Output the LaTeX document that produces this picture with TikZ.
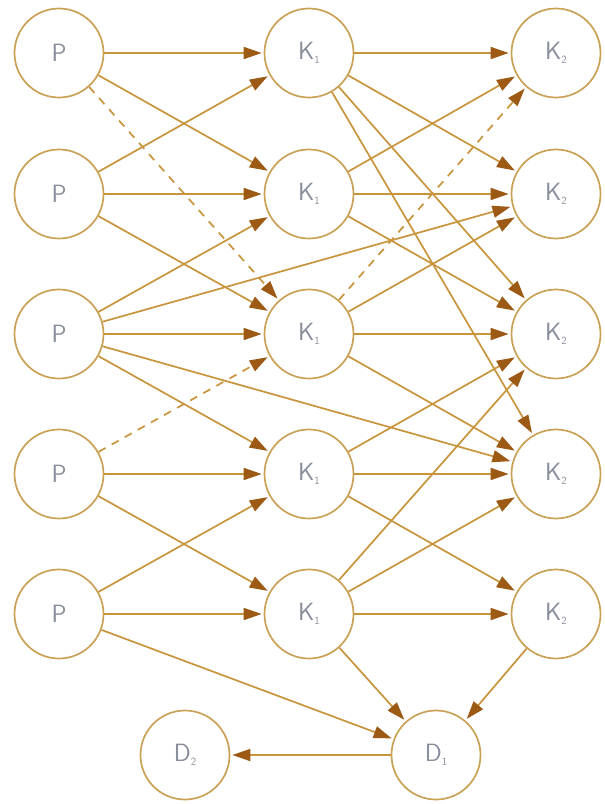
\documentclass[tikz,border=0pt]{standalone}
\usetikzlibrary{arrows.meta}
\definecolor{ring}{HTML}{C9A257}
\definecolor{edgec}{HTML}{C8943C}
\definecolor{tipc}{HTML}{9C5A14}
\definecolor{lbl}{HTML}{8A8F9C}
\newcommand{\sbx}[1]{\raisebox{-4pt}{\fontsize{11}{12}\selectfont #1}}
\begin{document}
\begin{tikzpicture}[x=1pt,y=-1pt,
  st/.style={circle,draw=ring,line width=1.7pt,fill=white,minimum size=89pt,inner sep=0pt,text=lbl,font=\sffamily\fontsize{25}{27}\selectfont},
  ar/.style={draw=edgec,line width=1.7pt,-{Triangle[length=18pt,width=12pt,color=tipc]},shorten >=2pt},
  da/.style={ar,dash pattern=on 8pt off 7pt}]
\useasboundingbox[fill=white] (0,0) rectangle (605,804);
% left column
\node[st] (P1) at (59,53) {P};
\node[st] (P2) at (59,194) {P};
\node[st] (P3) at (59,334) {P};
\node[st] (P4) at (59,474) {P};
\node[st] (P5) at (59,614) {P};
% middle column
\node[st] (K1) at (309,53) {K\sbx{1}};
\node[st] (K2) at (309,194) {K\sbx{1}};
\node[st] (K3) at (309,334) {K\sbx{1}};
\node[st] (K4) at (309,474) {K\sbx{1}};
\node[st] (K5) at (309,614) {K\sbx{1}};
% right column
\node[st] (R1) at (556,53) {K\sbx{2}};
\node[st] (R2) at (556,194) {K\sbx{2}};
\node[st] (R3) at (556,334) {K\sbx{2}};
\node[st] (R4) at (556,474) {K\sbx{2}};
\node[st] (R5) at (556,614) {K\sbx{2}};
% bottom
\node[st] (D2) at (185,755) {D\sbx{2}};
\node[st] (D1) at (436,755) {D\sbx{1}};
% edges from P
\draw[ar] (P1) -- (K1);
\draw[ar] (P1) -- (K2);
\draw[da] (P1) -- (K3);
\draw[ar] (P2) -- (K1);
\draw[ar] (P2) -- (K2);
\draw[ar] (P2) -- (K3);
\draw[ar] (P3) -- (K2);
\draw[ar] (P3) -- (R2);
\draw[ar] (P3) -- (K3);
\draw[ar] (P3) -- (K4);
\draw[ar] (P3) -- (R4);
\draw[da] (P4) -- (K3);
\draw[ar] (P4) -- (K4);
\draw[ar] (P4) -- (K5);
\draw[ar] (P5) -- (K4);
\draw[ar] (P5) -- (K5);
\draw[ar] (P5) -- (D1);
% edges from K
\draw[ar] (K1) -- (R1);
\draw[ar] (K1) -- (R2);
\draw[ar] (K1) -- (R3);
\draw[ar] (K1) -- (R4);
\draw[ar] (K2) -- (R1);
\draw[ar] (K2) -- (R2);
\draw[ar] (K2) -- (R3);
\draw[da] (K3) -- (R1);
\draw[ar] (K3) -- (R2);
\draw[ar] (K3) -- (R3);
\draw[ar] (K3) -- (R4);
\draw[ar] (K4) -- (R3);
\draw[ar] (K4) -- (R4);
\draw[ar] (K4) -- (R5);
\draw[ar] (K5) -- (R3);
\draw[ar] (K5) -- (R4);
\draw[ar] (K5) -- (R5);
\draw[ar] (K5) -- (D1);
\draw[ar] (R5) -- (D1);
\draw[ar] (D1) -- (D2);
\end{tikzpicture}
\end{document}
